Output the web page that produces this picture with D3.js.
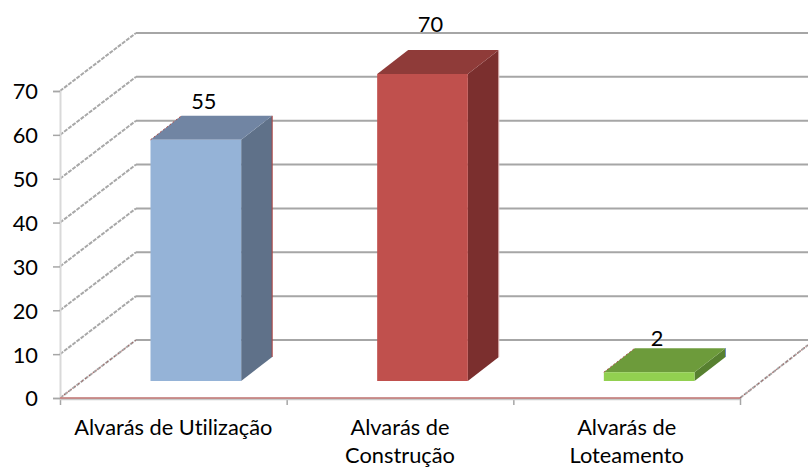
<!DOCTYPE html>
<html><head><meta charset="utf-8">
<style>html,body{margin:0;padding:0;background:#fff}svg{display:block}text{font-family:"Lato","Open Sans",sans-serif;fill:#000;font-variant-ligatures:none}</style>
<script src="https://cdn.jsdelivr.net/npm/d3@7"></script></head>
<body><svg id="c" width="808" height="468"></svg>
<script>
const categories=["Alvarás de Utilização","Alvarás de Construção","Alvarás de Loteamento"];
const labelLines=[["Alvarás de Utilização"],["Alvarás de","Construção"],["Alvarás de","Loteamento"]];
const values=[55,70,2];
const tickValues=[0,10,20,30,40,50,60,70];
const frontColors=["#95b3d7","#c0504d","#92d050"];
const topColors=["#7185a3","#8f3b39","#6d9b3b"];
const sideColors=["#5f7189","#7b2f2e","#578030"];
const edgeColors=["#b0403e","#e8c4c3","#6f8fc0"];
const labelLift=[30.5,42,26];

const svg=d3.select("#c");
const y=d3.scaleLinear().domain([0,70]).range([398,91]);
const x=d3.scaleBand().domain(categories).range([60.5,740.5]).paddingInner(.6).paddingOuter(.3);
const wallDx=76,wallDy=58,barDx=22,barDy=17,depthDx=31,depthDy=24;
const FS="21.8px";

const grid=svg.append("g");
tickValues.forEach(t=>{
  grid.append("line").attr("x1",60+wallDx).attr("x2",808).attr("y1",y(t)-wallDy).attr("y2",y(t)-wallDy)
    .attr("stroke","#a6a6a6").attr("stroke-width",2);
  if(t>0) grid.append("line").attr("x1",60).attr("x2",60+wallDx).attr("y1",y(t)).attr("y2",y(t)-wallDy)
    .attr("stroke","#a8a8a8").attr("stroke-width",2).attr("stroke-dasharray","4 1.2");
});
[[60,398,136,340],[740,398,808,345]].forEach(d=>{
  grid.append("line").attr("x1",d[0]).attr("y1",d[1]).attr("x2",d[2]).attr("y2",d[3])
    .attr("stroke","#a8a8a8").attr("stroke-width",2).attr("stroke-dasharray","4 1.2");
  grid.append("line").attr("x1",d[0]).attr("y1",d[1]).attr("x2",d[2]).attr("y2",d[3])
    .attr("stroke","#a5403e").attr("stroke-width",1).attr("stroke-opacity",.7).attr("stroke-dasharray","2 2.5");
});

const ya=svg.append("g").attr("transform","translate(60,0)")
  .call(d3.axisLeft(y).tickValues(tickValues).tickSize(7).tickPadding(15));
ya.select(".domain").attr("stroke","#d9d9d9").attr("stroke-width",2);
ya.selectAll("line").attr("stroke","#a6a6a6").attr("stroke-width",1.5);
ya.selectAll("text").style("font-size",FS).attr("dy","0.36em");
ya.attr("font-family",null);

const xTicks=d3.scaleLinear().domain([0,3]).range([60,740]);
const xa=svg.append("g").attr("transform","translate(0,398)")
  .call(d3.axisBottom(xTicks).tickValues([0,1,2,3]).tickFormat("").tickSize(7).tickSizeOuter(0));
xa.select(".domain").remove();
xa.selectAll("line").attr("stroke","#a6a6a6").attr("stroke-width",1.5);
svg.append("line").attr("x1",60).attr("x2",740).attr("y1",399).attr("y2",399).attr("stroke","#c9c9c9").attr("stroke-width",2.4);
svg.append("line").attr("x1",60).attr("x2",740).attr("y1",398).attr("y2",398).attr("stroke","#c27472").attr("stroke-width",1.4);

const bars=svg.append("g");
categories.forEach((c,i)=>{
  const v=values[i];
  const x0=x(c)+barDx, x1=x0+x.bandwidth();
  const yb=y(0)-barDy, yt=y(v)-barDy;
  const P=a=>a.map(p=>p.join(",")).join(" ");
  bars.append("polygon").attr("points",P([[x1,yb],[x1+depthDx,yb-depthDy],[x1+depthDx,yt-depthDy],[x1,yt]])).attr("fill",sideColors[i]);
  bars.append("polygon").attr("points",P([[x0,yt],[x0+depthDx,yt-depthDy],[x1+depthDx,yt-depthDy],[x1,yt]])).attr("fill",topColors[i]);
  bars.append("rect").attr("x",x0).attr("y",yt).attr("width",x.bandwidth()).attr("height",yb-yt).attr("fill",frontColors[i]);
  bars.append("line").attr("x1",x1+depthDx).attr("x2",x1+depthDx).attr("y1",yb-depthDy).attr("y2",yt-depthDy).attr("stroke",edgeColors[i]).attr("stroke-width",1);
  if(i!==1) bars.append("line").attr("x1",x0).attr("y1",yt).attr("x2",x0+depthDx).attr("y2",yt-depthDy)
    .attr("stroke","#b0504e").attr("stroke-width",1).attr("stroke-dasharray","2 2");
  svg.append("text").attr("x",(x0+x1)/2+8).attr("y",yt-labelLift[i]).attr("text-anchor","middle").style("font-size",FS).text(v);
  const t=svg.append("text").attr("text-anchor","middle").style("font-size",FS);
  labelLines[i].forEach((s,k)=>t.append("tspan").attr("x",xTicks(i+.5)).attr("y",435+k*27.5).text(s));
});
</script></body></html>
